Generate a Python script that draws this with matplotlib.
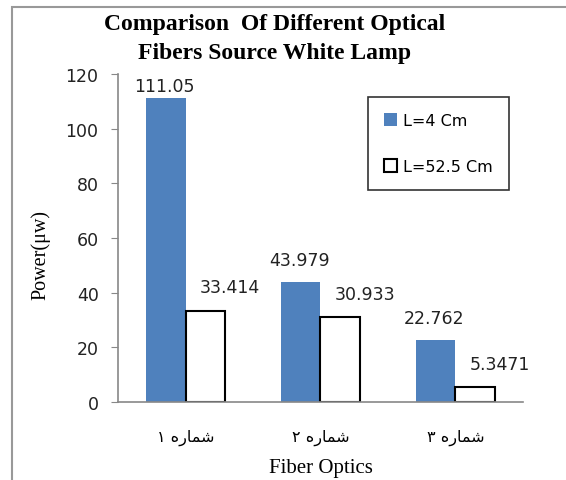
''' grouped bar chart: optical fibers, white lamp source '''
import numpy as np
import matplotlib.pyplot as plt
from matplotlib.patches import Rectangle

# x labels in visual (left to right) order with shaped Persian glyphs
categories = ['\u06f1 \ufee9\ufead\ufe8e\ufee4\ufeb7',
              '\u06f2 \ufee9\ufead\ufe8e\ufee4\ufeb7',
              '\u06f3 \ufee9\ufead\ufe8e\ufee4\ufeb7']
short_len = [111.05, 43.979, 22.762]      # L=4 Cm
long_len = [33.414, 30.933, 5.3471]       # L=52.5 Cm
short_text = ['111.05', '43.979', '22.762']
long_text = ['33.414', '30.933', '5.3471']

fig = plt.figure(figsize=(5.66, 4.81), dpi=100)
ax = fig.add_axes([0.2085, 0.1622, 0.7155, 0.6818])

x = np.arange(len(categories))
w = 0.29
b1 = ax.bar(x - w / 2, short_len, w, color='#4F81BD', label='L=4 Cm')
b2 = ax.bar(x + w / 2, long_len, w, color='white', edgecolor='black',
            linewidth=1.5, label='L=52.5 Cm')

# value labels
for i, rect in enumerate(b1):
    dy = 9 if short_len[i] > 100 else 16
    ax.annotate(short_text[i], (rect.get_x() + rect.get_width() / 2, rect.get_height()),
                xytext=(-1, dy), textcoords='offset points', ha='center', va='center',
                fontsize=12.5, family='DejaVu Sans', color='#222222', annotation_clip=False)
for i, rect in enumerate(b2):
    ax.annotate(long_text[i], (rect.get_x() + rect.get_width() / 2, rect.get_height()),
                xytext=(18, 17), textcoords='offset points', ha='center', va='center',
                fontsize=12.5, family='DejaVu Sans', color='#222222')

ax.set_xlim(-0.5, 2.5)
ax.set_ylim(0, 120)
ax.set_yticks(np.arange(0, 121, 20))
ax.tick_params(axis='y', direction='out', length=5, color='#888888',
               labelsize=12.5, labelcolor='#222222', pad=9)
ax.set_xticks(x)
ax.set_xticklabels(categories, family='DejaVu Sans', fontsize=11.5)
ax.tick_params(axis='x', length=0, pad=19)

for s in ['top', 'right']:
    ax.spines[s].set_visible(False)
for s in ['left', 'bottom']:
    ax.spines[s].set_color('#888888')
    ax.spines[s].set_linewidth(1.2)

ax.set_ylabel('Power(\u03bcw)', family='Liberation Serif', fontsize=14.5)
ax.yaxis.set_label_coords(-0.168, 0.45)
ax.set_xlabel('Fiber Optics', family='Liberation Serif', fontsize=15, va='center')
ax.xaxis.set_label_coords(0.5, -0.2)

fig.text(0.485, 0.919, 'Comparison  Of Different Optical\nFibers Source White Lamp',
         ha='center', va='center', family='Liberation Serif', fontweight='bold',
         fontsize=17, linespacing=1.55)

leg = ax.legend(loc='upper right', bbox_to_anchor=(0.965, 0.93), fontsize=11.5,
                frameon=True, fancybox=False, edgecolor='black', handlelength=0.8,
                handleheight=0.8, handletextpad=0.4, labelspacing=1.95,
                borderpad=1.0, borderaxespad=0)
leg.get_frame().set_linewidth(1.2)

# outer chart border
fig.patches.append(Rectangle((12 / 566, -0.1), 1.2, 1 - 8 / 481 + 0.1,
                             transform=fig.transFigure, fill=False,
                             edgecolor='#999999', linewidth=1.5))

plt.savefig('out.png', dpi=100)
